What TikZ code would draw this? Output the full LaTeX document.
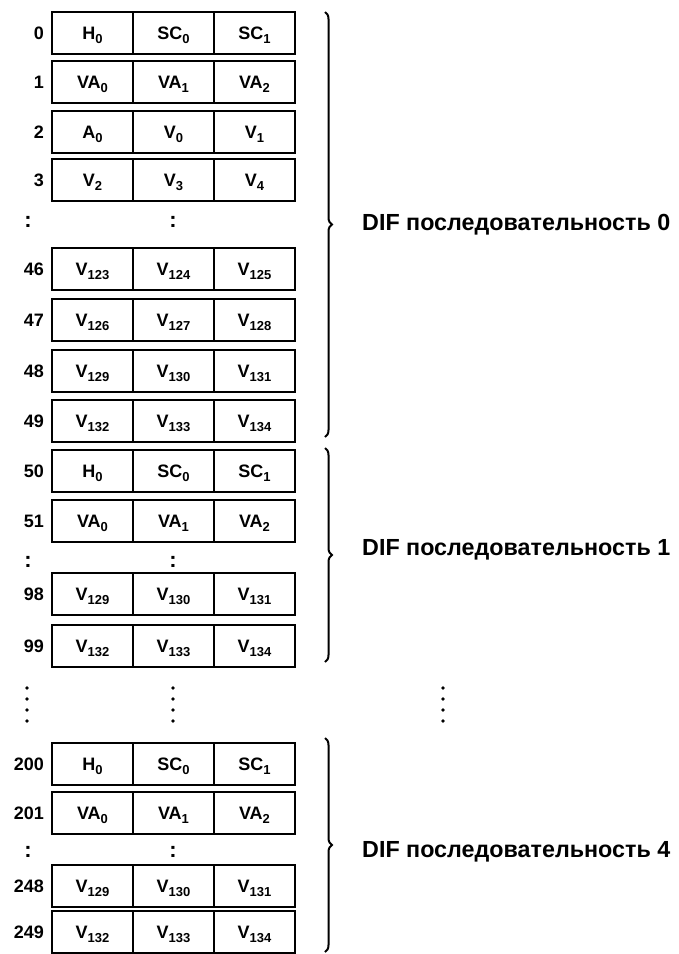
\documentclass[tikz,border=0pt]{standalone}
\usepackage{fontspec}
\setmainfont{Liberation Sans}
\usetikzlibrary{decorations.pathreplacing, positioning}

\newcommand{\sbs}[1]{\raisebox{-0.4ex}{\fontsize{13}{13}\selectfont #1}}

\begin{document}
\begin{tikzpicture}[
  x=1pt, y=-1pt,
  every node/.style={font=\bfseries\fontsize{18}{18}\selectfont},
  cell/.style={rectangle, draw, line width=1.8pt, outer sep=0pt,
               minimum width=81pt, minimum height=42pt, inner sep=0pt,
               text height=12.5pt, text depth=0pt},
  rowno/.style={inner sep=0pt, text height=12.5pt, text depth=0pt},
  gap/.style={inner sep=0pt, font=\bfseries\fontsize{22}{22}\selectfont},
  dbrace/.style={decorate, decoration={brace, amplitude=7pt}, line width=2pt},
  seqlabel/.style={anchor=west, inner sep=0pt,
                   font=\bfseries\fontsize{23.3}{23.3}\selectfont}
]
  \useasboundingbox (0,0) rectangle (678,954);

  % rows of the DIF blocks
  \foreach \t/\n/\a/\b/\c in {
      12/0/H\sbs{0}/SC\sbs{0}/SC\sbs{1},
      61/1/VA\sbs{0}/VA\sbs{1}/VA\sbs{2},
      111/2/A\sbs{0}/V\sbs{0}/V\sbs{1},
      159/3/V\sbs{2}/V\sbs{3}/V\sbs{4},
      248/46/V\sbs{123}/V\sbs{124}/V\sbs{125},
      299/47/V\sbs{126}/V\sbs{127}/V\sbs{128},
      350/48/V\sbs{129}/V\sbs{130}/V\sbs{131},
      400/49/V\sbs{132}/V\sbs{133}/V\sbs{134},
      450/50/H\sbs{0}/SC\sbs{0}/SC\sbs{1},
      500/51/VA\sbs{0}/VA\sbs{1}/VA\sbs{2},
      573/98/V\sbs{129}/V\sbs{130}/V\sbs{131},
      625/99/V\sbs{132}/V\sbs{133}/V\sbs{134},
      743/200/H\sbs{0}/SC\sbs{0}/SC\sbs{1},
      792/201/VA\sbs{0}/VA\sbs{1}/VA\sbs{2},
      865/248/V\sbs{129}/V\sbs{130}/V\sbs{131},
      911/249/V\sbs{132}/V\sbs{133}/V\sbs{134}} {
    \node[cell] (a\n) at (92.5,\t+21) {\a};
    \node[cell, right=0pt of a\n] (b\n) {\b};
    \node[cell, right=0pt of b\n] (c\n) {\c};
    \node[rowno, left=8pt of a\n] (n\n) {\n};
  }

  % skipped rows
  \node[gap] (gl1) at (28,222) {:};
  \node[gap] (gm1) at (173,222) {:};
  \node[gap] (gl2) at (28,562) {:};
  \node[gap] (gm2) at (173,562) {:};
  \node[gap] (gl3) at (28,852) {:};
  \node[gap] (gm3) at (173,852) {:};
  \foreach \x in {27,173,443}
    \foreach \y in {688,699,710,721}
      \fill (\x,\y) circle (1.8pt);

  % braces
  \coordinate (s0t) at (325,12);
  \coordinate (s0b) at (325,437);
  \coordinate (s1t) at (325,448);
  \coordinate (s1b) at (325,662);
  \coordinate (s4t) at (325,738);
  \coordinate (s4b) at (325,952);
  \draw[dbrace] (s0t) -- (s0b);
  \draw[dbrace] (s1t) -- (s1b);
  \draw[dbrace] (s4t) -- (s4b);

  \node[seqlabel] (q0) at (362,225) {DIF последовательность 0};
  \node[seqlabel] (q1) at (362,550) {DIF последовательность 1};
  \node[seqlabel] (q4) at (362,852) {DIF последовательность 4};
\end{tikzpicture}
\end{document}
